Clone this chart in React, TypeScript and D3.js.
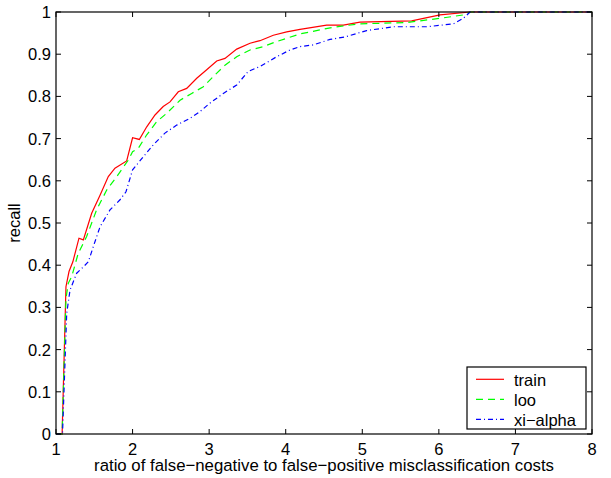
import React from "react";
import * as d3 from "d3";

const trainX = [1.0, 1.08, 1.13, 1.17, 1.22, 1.30, 1.357, 1.466, 1.575, 1.683, 1.77, 1.923, 2.0, 2.088, 2.185, 2.293, 2.40, 2.489, 2.597, 2.707, 2.838, 2.968, 3.099, 3.207, 3.36, 3.534, 3.664, 3.838, 4.013, 4.187, 4.535, 4.752, 4.97, 5.645, 6.015, 6.407, 8];
const trainY = [0, 0, 0.349, 0.385, 0.408, 0.464, 0.46, 0.523, 0.566, 0.61, 0.63, 0.647, 0.702, 0.698, 0.728, 0.756, 0.776, 0.787, 0.811, 0.819, 0.843, 0.863, 0.884, 0.89, 0.912, 0.926, 0.932, 0.945, 0.953, 0.959, 0.969, 0.969, 0.976, 0.979, 0.993, 1.0, 1.0];

const looX = [1.0, 1.08, 1.13, 1.16, 1.205, 1.29, 1.40, 1.53, 1.662, 1.793, 1.944, 2.0, 2.075, 2.185, 2.315, 2.446, 2.62, 2.772, 2.924, 3.054, 3.207, 3.36, 3.534, 3.707, 3.882, 4.187, 4.622, 4.97, 5.58, 6.015, 6.32, 6.407, 8];
const looY = [0, 0, 0.32, 0.357, 0.373, 0.428, 0.468, 0.531, 0.578, 0.61, 0.649, 0.669, 0.677, 0.709, 0.74, 0.76, 0.791, 0.807, 0.823, 0.847, 0.874, 0.894, 0.91, 0.918, 0.93, 0.948, 0.964, 0.972, 0.975, 0.985, 0.993, 1.0, 1.0];

const alphaX = [1.0, 1.085, 1.14, 1.183, 1.27, 1.357, 1.422, 1.487, 1.575, 1.705, 1.836, 1.914, 2.0, 2.14, 2.27, 2.423, 2.576, 2.75, 2.88, 3.01, 3.185, 3.36, 3.51, 3.664, 3.882, 4.056, 4.187, 4.36, 4.578, 4.774, 5.057, 5.405, 5.84, 6.19, 6.32, 6.407, 8];
const alphaY = [0, 0, 0.286, 0.341, 0.381, 0.396, 0.408, 0.444, 0.491, 0.531, 0.555, 0.574, 0.626, 0.657, 0.685, 0.713, 0.732, 0.748, 0.764, 0.784, 0.807, 0.827, 0.859, 0.871, 0.894, 0.91, 0.918, 0.922, 0.935, 0.941, 0.956, 0.965, 0.965, 0.972, 0.985, 1.0, 1.0];

const xTicks = [1, 2, 3, 4, 5, 6, 7, 8];
const yTicks = [0, 0.1, 0.2, 0.3, 0.4, 0.5, 0.6, 0.7, 0.8, 0.9, 1];
const seriesNames = ["train", "loo", "xi\u2212alpha"];
const seriesColors = ["#ff0000", "#00ff00", "#0000ff"];
const seriesDash = ["none", "7,5", "5,3,1,3"];

const W = 611, H = 478;
const L = 56, R = 592, T = 12, B = 434;
const FONT = "'Liberation Sans', Arial, Helvetica, sans-serif";
const FS = 16.5;

export default function App() {
  const x = d3.scaleLinear().domain([1, 8]).range([L, R]);
  const y = d3.scaleLinear().domain([0, 1]).range([B, T]);
  const line = d3.line<[number, number]>().x(d => x(d[0])).y(d => y(d[1]));
  const series = [
    trainX.map((v, i) => [v, trainY[i]] as [number, number]),
    looX.map((v, i) => [v, looY[i]] as [number, number]),
    alphaX.map((v, i) => [v, alphaY[i]] as [number, number]),
  ];
  const tl = 5;
  const lx = 467, ly = 367, lw = 119, lh = 62;
  return (
    <svg width={W} height={H} style={{ position: "absolute", left: 0, top: 0, background: "#fff" }} fontFamily={FONT}>
      <rect x={0} y={0} width={W} height={H} fill="#fff" />
      {series.map((s, i) => (
        <path key={i} d={line(s) || ""} fill="none" stroke={seriesColors[i]} strokeWidth={1.2} strokeDasharray={seriesDash[i]} />
      ))}
      <rect x={L} y={T} width={R - L} height={B - T} fill="none" stroke="#000" strokeWidth={1.2} />
      {xTicks.map(t => (
        <g key={"x" + t}>
          <line x1={x(t)} x2={x(t)} y1={B} y2={B - tl} stroke="#000" />
          <line x1={x(t)} x2={x(t)} y1={T} y2={T + tl} stroke="#000" />
          <text x={x(t)} y={B + 20.5} fontSize={FS} textAnchor="middle">{t}</text>
        </g>
      ))}
      {yTicks.map(t => (
        <g key={"y" + t}>
          <line x1={L} x2={L + tl} y1={y(t)} y2={y(t)} stroke="#000" />
          <line x1={R} x2={R - tl} y1={y(t)} y2={y(t)} stroke="#000" />
          <text x={L - 5} y={y(t) + 6} fontSize={FS} textAnchor="end">{String(t)}</text>
        </g>
      ))}
      <text x={(L + R) / 2} y={471} fontSize={16.8} textAnchor="middle">ratio of false{"\u2212"}negative to false{"\u2212"}positive misclassification costs</text>
      <text transform={`translate(20,${(T + B) / 2}) rotate(-90)`} fontSize={FS} textAnchor="middle">recall</text>
      <rect x={lx} y={ly} width={lw} height={lh} fill="#fff" stroke="#000" strokeWidth={1.2} />
      {seriesNames.map((n, i) => (
        <g key={n}>
          <line x1={476} x2={504} y1={ly + 12.3 + i * 20} y2={ly + 12.3 + i * 20} stroke={seriesColors[i]} strokeWidth={1.2} strokeDasharray={seriesDash[i]} />
          <text x={514} y={ly + 18.5 + i * 20} fontSize={FS}>{n}</text>
        </g>
      ))}
    </svg>
  );
}
